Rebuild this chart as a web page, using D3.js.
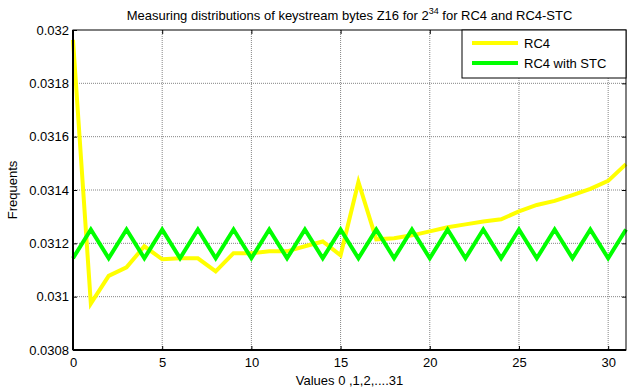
<!DOCTYPE html>
<html>
<head>
<meta charset="utf-8">
<script src="https://cdn.jsdelivr.net/npm/d3@7"></script>
<style>
  body { margin: 0; background: #fff; }
  text { font-family: "Liberation Sans", Arial, sans-serif; }
</style>
</head>
<body>
<div id="chart"></div>
<script>
// values
const xValues = d3.range(0, 32);
const rc4 = [0.031963, 0.030974, 0.031078, 0.031110, 0.031189, 0.031140, 0.031144, 0.031144,
  0.031095, 0.031163, 0.031163, 0.031170, 0.031170, 0.031189, 0.031207, 0.031155,
  0.031430, 0.031215, 0.031219, 0.031230, 0.031245, 0.031260, 0.031271, 0.031282,
  0.031290, 0.031320, 0.031344, 0.031359, 0.031381, 0.031404, 0.031434, 0.031497];
const rc4stc = [0.031144, 0.031252, 0.031144, 0.031252, 0.031144, 0.031252, 0.031144, 0.031252,
  0.031144, 0.031252, 0.031144, 0.031252, 0.031144, 0.031252, 0.031144, 0.031252,
  0.031144, 0.031252, 0.031144, 0.031252, 0.031144, 0.031252, 0.031144, 0.031252,
  0.031144, 0.031252, 0.031144, 0.031252, 0.031144, 0.031252, 0.031144, 0.031252];
const xTicks = [0, 5, 10, 15, 20, 25, 30];
const yTicks = [0.0308, 0.031, 0.0312, 0.0314, 0.0316, 0.0318, 0.032];
const seriesNames = ["RC4", "RC4 with STC"];
const seriesColors = ["#ffff00", "#00ff00"];

const width = 628, height = 389;
const margin = { top: 30, right: 2, bottom: 39, left: 73 };
const w = width - margin.left - margin.right;
const h = height - margin.top - margin.bottom;
const fs = 13;

const svg = d3.select("#chart").append("svg")
  .attr("width", width).attr("height", height);
const g = svg.append("g").attr("transform", `translate(${margin.left},${margin.top})`);

const x = d3.scaleLinear().domain([0, 31]).range([0, w]);
const y = d3.scaleLinear().domain([0.0308, 0.032]).range([h, 0]);

// grid
g.append("g").selectAll("line").data(xTicks.slice(1)).join("line")
  .attr("x1", d => x(d)).attr("x2", d => x(d)).attr("y1", 0).attr("y2", h)
  .attr("stroke", "#666").attr("stroke-width", 0.8).attr("stroke-dasharray", "1,1");
g.append("g").selectAll("line").data(yTicks.slice(1, -1)).join("line")
  .attr("x1", 0).attr("x2", w).attr("y1", d => y(d)).attr("y2", d => y(d))
  .attr("stroke", "#666").attr("stroke-width", 0.8).attr("stroke-dasharray", "1,1");

// axes with inward ticks
const fmt = d => String(+d.toFixed(4));
g.append("g").attr("transform", `translate(0,${h})`)
  .call(d3.axisBottom(x).tickValues(xTicks).tickSize(-4).tickPadding(8).tickFormat(d => d))
  .call(a => a.select(".domain").remove());
g.append("g")
  .call(d3.axisLeft(y).tickValues(yTicks).tickSize(-4).tickPadding(4).tickFormat(fmt))
  .call(a => a.select(".domain").remove());
g.append("g").attr("transform", `translate(${w},0)`)
  .call(d3.axisRight(y).tickValues(yTicks).tickSize(-4).tickFormat(""))
  .call(a => a.select(".domain").remove());
g.append("g")
  .call(d3.axisTop(x).tickValues(xTicks).tickSize(-4).tickFormat(""))
  .call(a => a.select(".domain").remove());
g.selectAll(".tick text").attr("font-size", fs).attr("fill", "#000")
  .style("font-family", "'Liberation Sans', Arial, sans-serif");
g.selectAll(".tick line").attr("stroke", "#000");

// lines
const line = d3.line().x((d, i) => x(xValues[i])).y(d => y(d));
[rc4, rc4stc].forEach((s, k) => {
  g.append("path").datum(s)
    .attr("d", line).attr("fill", "none")
    .attr("stroke", seriesColors[k]).attr("stroke-width", 4)
    .attr("stroke-linejoin", "miter");
});

// box
g.append("rect").attr("width", w).attr("height", h)
  .attr("fill", "none").attr("stroke", "#000").attr("stroke-width", 1);
g.append("line").attr("x1", 0).attr("x2", 0).attr("y1", 0).attr("y2", h)
  .attr("stroke", "#000").attr("stroke-width", 2);
g.append("line").attr("x1", 0).attr("x2", w).attr("y1", h).attr("y2", h)
  .attr("stroke", "#000").attr("stroke-width", 2);

// legend
const lg = g.append("g").attr("transform", `translate(${w - 164},0)`);
lg.append("rect").attr("width", 164).attr("height", 48)
  .attr("fill", "#fff").attr("stroke", "#000").attr("stroke-width", 1);
seriesNames.forEach((n, i) => {
  lg.append("line").attr("x1", 10).attr("x2", 56)
    .attr("y1", 13 + i * 20).attr("y2", 13 + i * 20)
    .attr("stroke", seriesColors[i]).attr("stroke-width", 4);
  lg.append("text").attr("x", 62).attr("y", 13 + i * 20).attr("dy", "0.35em")
    .attr("font-size", fs).text(n);
});

// title
const title = svg.append("text").attr("x", margin.left + w / 2).attr("y", 20)
  .attr("text-anchor", "middle").attr("font-size", fs);
title.append("tspan").text("Measuring distributions of keystream bytes Z16 for 2");
title.append("tspan").attr("font-size", 9).attr("dy", -6).text("34");
title.append("tspan").attr("dy", 6).text(" for RC4 and RC4-STC");

// axis labels
svg.append("text").attr("x", margin.left + w / 2).attr("y", 385)
  .attr("text-anchor", "middle").attr("font-size", fs).text("Values 0 ,1,2,....31");
svg.append("text").attr("transform", `translate(17,${margin.top + h / 2}) rotate(-90)`)
  .attr("text-anchor", "middle").attr("font-size", fs).text("Frequents");
</script>
</body>
</html>
